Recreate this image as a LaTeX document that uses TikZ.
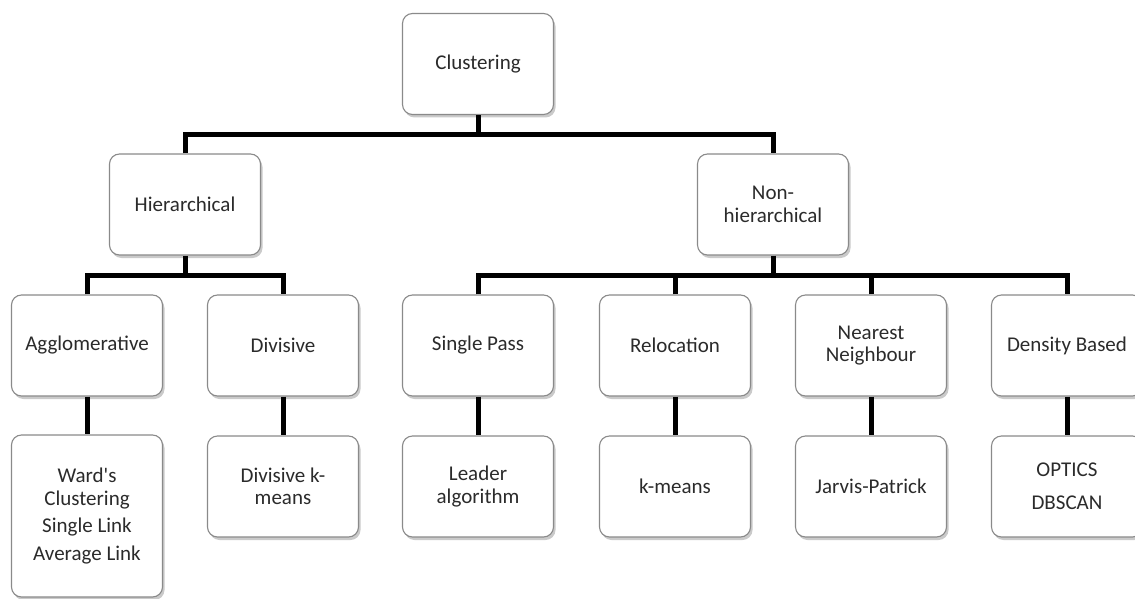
\documentclass[tikz,border=0pt]{standalone}
\usepackage{fontspec}
\setmainfont{Carlito}[Ligatures=TeXOff]
\usetikzlibrary{shadows}
\definecolor{txt}{HTML}{2B2B2B}
\definecolor{bord}{HTML}{8A8A8A}
\tikzset{
  box/.style={draw=bord, line width=1.1pt, rounded corners=10pt, fill=white,
    minimum width=151pt, minimum height=101pt, align=center, text=txt,
    inner sep=2pt,
    font=\fontsize{21}{22.5}\selectfont,
    drop shadow={shadow xshift=2pt, shadow yshift=-3pt, opacity=0.35, fill=black!60}},
  conn/.style={line width=5pt, black}
}
\begin{document}
\begin{tikzpicture}[x=1pt,y=-1pt]
\useasboundingbox (0,0) rectangle (1135,599);
% nodes
\node[box] (clu) at (478,64) {Clustering};
\node[box] (hier) at (185,204.5) {Hierarchical};
\node[box] (non) at (773,204.5) {Non-\\hierarchical};
\node[box] (agg) at (87,345.5) {Agglomerative};
\node[box] (div) at (283,345.5) {Divisive};
\node[box] (sp) at (478,345.5) {Single Pass};
\node[box] (rel) at (675,345.5) {Relocation};
\node[box] (nn) at (871,345.5) {Nearest\\Neighbour};
\node[box] (db) at (1067,345.5) {Density Based};
\node[box, minimum height=162pt] (ward) at (87,516) {Ward's\\Clustering\\[5pt]Single Link\\[5pt]Average Link};
\node[box] (dkm) at (283,486.5) {Divisive k-\\means};
\node[box] (lead) at (478,486.5) {Leader\\algorithm};
\node[box] (km) at (675,486.5) {k-means};
\node[box] (jp) at (871,486.5) {Jarvis-Patrick};
\node[box] (opt) at (1067,486.5) {OPTICS\\[10pt]DBSCAN};
% buses
\coordinate (bus1) at (478,135);
\coordinate (bus2) at (185,275);
\coordinate (bus3) at (773,275);
% connectors
\draw[conn] (clu.south) -- (bus1);
\draw[conn] (hier.north) |- (bus1) -| (non.north);
\draw[conn] (hier.south) -- (bus2);
\draw[conn] (agg.north) |- (bus2) -| (div.north);
\draw[conn] (non.south) -- (bus3);
\draw[conn] (sp.north) |- (bus3) -| (db.north);
\draw[conn] (rel.north) -- (rel.north |- bus3);
\draw[conn] (nn.north) -- (nn.north |- bus3);
\draw[conn] (agg.south) -- (ward.north);
\draw[conn] (div.south) -- (dkm.north);
\draw[conn] (sp.south) -- (lead.north);
\draw[conn] (rel.south) -- (km.north);
\draw[conn] (nn.south) -- (jp.north);
\draw[conn] (db.south) -- (opt.north);
\end{tikzpicture}
\end{document}
